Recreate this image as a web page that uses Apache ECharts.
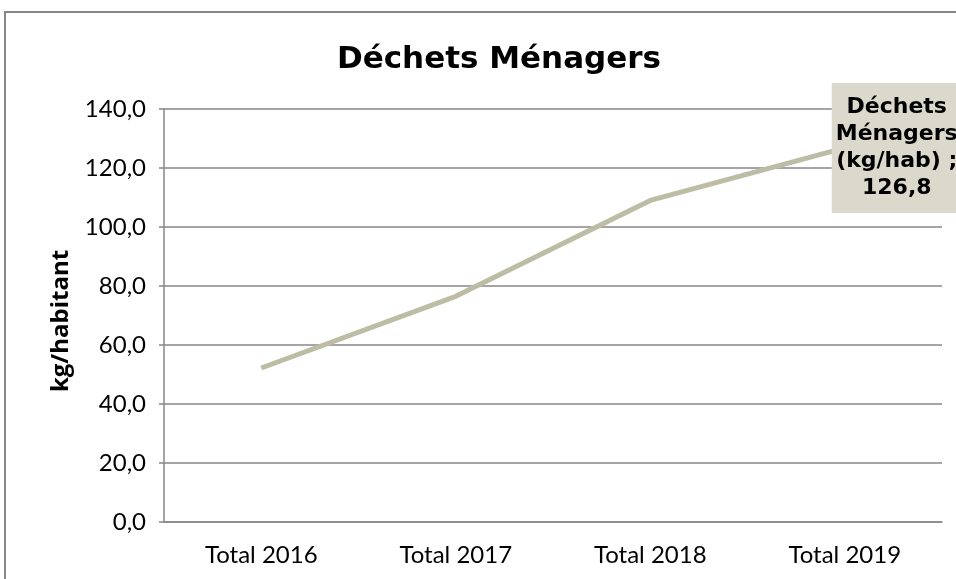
<!DOCTYPE html>
<html><head><meta charset="utf-8">
<script src="https://cdn.jsdelivr.net/npm/echarts@6/dist/echarts.min.js"></script>
<style>html,body{margin:0;padding:0;background:#fff}#c{width:956px;height:579px}</style>
</head><body><div id="c"></div>
<script>
const categories = ['Total 2016', 'Total 2017', 'Total 2018', 'Total 2019'];
const values = [52.2, 76.5, 109.0, 126.8];
const seriesName = 'Déchets Ménagers (kg/hab)';
const yTicks = { min: 0, max: 140, interval: 20 };

const FONT = 'Lato';
const BOLD = 'DejaVu Sans';
const chart = echarts.init(document.getElementById('c'), null, { renderer: 'canvas' });
const fmt = v => v.toFixed(1).replace('.', ',');
chart.setOption({
  animation: false,
  backgroundColor: '#fff',
  title: {
    text: 'Déchets Ménagers', left: 494, top: 39, textAlign: 'center',
    textStyle: { fontFamily: BOLD, fontWeight: 'bold', fontSize: 31, color: '#000' }
  },
  graphic: [
    { type: 'rect', shape: { x: 5, y: 12, width: 1000, height: 700 }, style: { fill: 'none', stroke: '#878787', lineWidth: 2 }, silent: true, z: 100 },
    { type: 'text', x: 61, y: 321, rotation: Math.PI / 2,
      style: { text: 'kg/habitant', fontFamily: 'Open Sans', fontWeight: 'bold', fontSize: 24, fill: '#000', align: 'center', verticalAlign: 'middle' } }
  ],
  grid: { left: 164, right: 14, top: 109, bottom: 57, containLabel: false },
  xAxis: {
    type: 'category', data: categories, boundaryGap: true,
    axisLine: { lineStyle: { color: '#878787', width: 1.5 } },
    axisTick: { show: false },
    axisLabel: { fontFamily: FONT, fontSize: 24, color: '#000', margin: 21 }
  },
  yAxis: {
    type: 'value', min: yTicks.min, max: yTicks.max, interval: yTicks.interval,
    axisLine: { show: true, lineStyle: { color: '#878787', width: 1.5 } },
    axisTick: { show: true, length: 5, lineStyle: { color: '#878787', width: 1.5 } },
    splitLine: { lineStyle: { color: '#878787', width: 1.5 } },
    axisLabel: { fontFamily: FONT, fontSize: 24, color: '#000', margin: 18, formatter: fmt }
  },
  series: [{
    name: seriesName, type: 'line', data: values, showSymbol: false, symbol: 'none',
    lineStyle: { color: '#BDBCA4', width: 5 },
    label: { show: false },
    markPoint: {
      symbol: 'circle', symbolSize: 0,
      data: [{ coord: [3, values[3]], value: values[3] }],
      label: {
        show: true, position: 'inside', offset: [52, 0],
        formatter: p => 'Déchets\nMénagers\n(kg/hab) ;\n' + fmt(values[3]),
        fontFamily: BOLD, fontWeight: 'bold', fontSize: 22, lineHeight: 27, color: '#000', align: 'center',
        width: 118, backgroundColor: '#DAD9CC', padding: [11, 6, 11, 6]
      }
    }
  }]
});
</script></body></html>
